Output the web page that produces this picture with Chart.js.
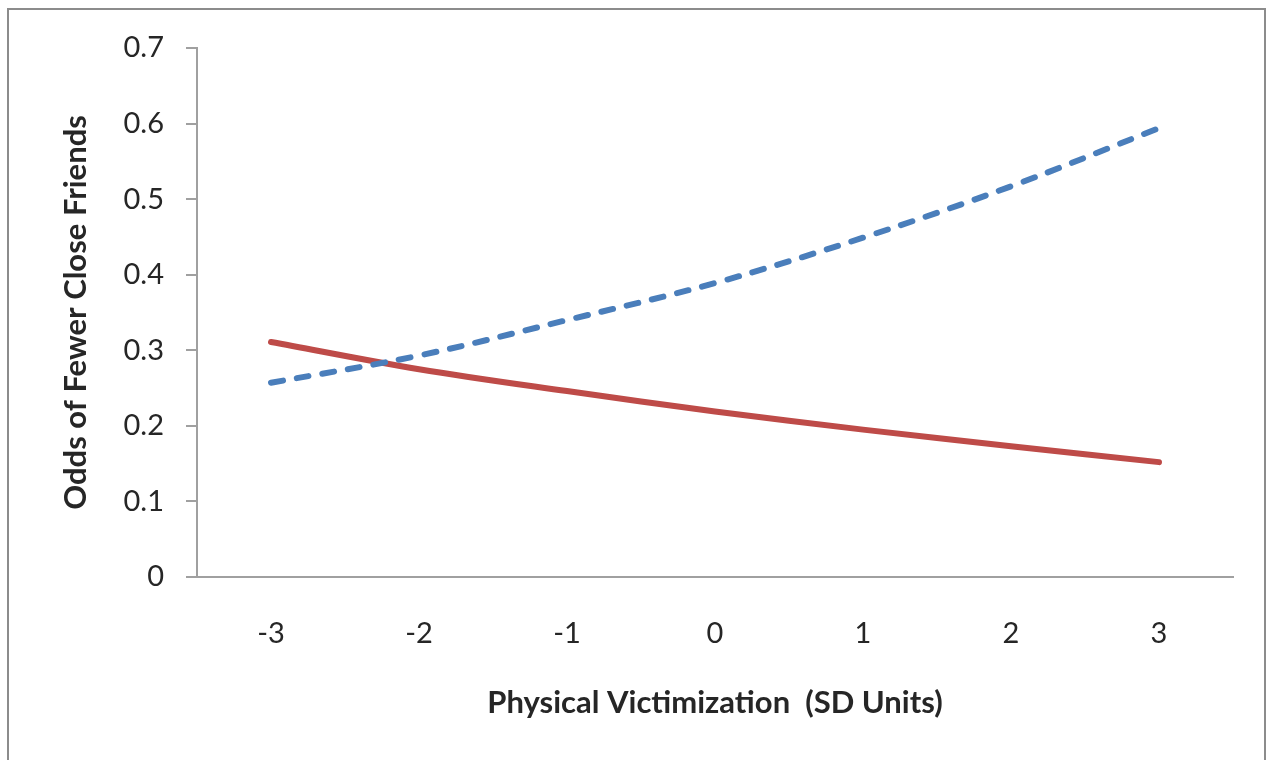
<!DOCTYPE html>
<html>
<head>
<meta charset="utf-8">
<title>Odds of Fewer Close Friends</title>
<script src="https://cdn.jsdelivr.net/npm/chart.js@4/dist/chart.umd.min.js"></script>
<style>
    html, body { margin: 0; padding: 0; background: #fff; }
    body { width: 1275px; height: 760px; position: relative; overflow: hidden; }
    .frame {
        position: absolute; left: 7px; top: 8px; width: 1259px; height: 800px;
        border: 2px solid #8c8c8c; box-sizing: border-box;
    }
    #chart { position: absolute; left: 0; top: 0; }
</style>
</head>
<body>
<div class="frame"></div>
<canvas id="chart" width="1275" height="760"></canvas>
<script>
// ===== Data =====
const categories = ['-3', '-2', '-1', '0', '1', '2', '3'];
const dashedSeries = [0.257, 0.293, 0.340, 0.389, 0.449, 0.517, 0.594];
const solidSeries = [0.311, 0.275, 0.246, 0.219, 0.195, 0.173, 0.152];
const yTicks = [0, 0.1, 0.2, 0.3, 0.4, 0.5, 0.6, 0.7];

const FONT = 'Lato, "Open Sans", "Noto Sans", sans-serif';
const AXIS = '#a0a0a0';
const TEXT = '#262626';

new Chart(document.getElementById('chart'), {
    type: 'line',
    data: {
        labels: categories,
        datasets: [
            { label: 'High', data: dashedSeries, borderColor: '#4a7ebb', borderWidth: 6, borderDash: [12, 14], borderCapStyle: 'round', pointRadius: 0, tension: 0.35, fill: false },
            { label: 'Low', data: solidSeries, borderColor: '#be4b48', borderWidth: 6, borderCapStyle: 'round', pointRadius: 0, tension: 0.35, fill: false }
        ]
    },
    options: {
        responsive: false,
        animation: false,
        events: [],
        layout: { padding: { top: 48, right: 42, bottom: 0, left: 0 } },
        plugins: { legend: { display: false }, tooltip: { enabled: false } },
        scales: {
            x: {
                offset: true,
                grid: { display: false, drawTicks: false, offset: true },
                border: { color: AXIS, width: 2 },
                ticks: { color: TEXT, padding: 39, font: { family: FONT, size: 29 } },
                title: { display: true, text: 'Physical Victimization  (SD Units)', color: TEXT, font: { family: FONT, size: 31, weight: 'bold' }, padding: { top: 0, bottom: 38 } },
                afterFit: s => { s.height = 183; }
            },
            y: {
                min: 0,
                max: 0.7,
                afterBuildTicks: s => { s.ticks = yTicks.map(v => ({ value: v })); },
                grid: { drawOnChartArea: false, drawTicks: true, tickLength: 11, color: AXIS, lineWidth: 2 },
                border: { color: AXIS, width: 2 },
                ticks: { color: TEXT, padding: 22, font: { family: FONT, size: 29 }, callback: v => v === 0 ? '0' : v.toFixed(1) },
                title: { display: true, text: 'Odds of Fewer Close Friends', color: TEXT, font: { family: FONT, size: 31, weight: 'bold' }, padding: { top: 57, bottom: 0 } },
                afterFit: s => { s.width = 197; }
            }
        }
    }
});
</script>
</body>
</html>
